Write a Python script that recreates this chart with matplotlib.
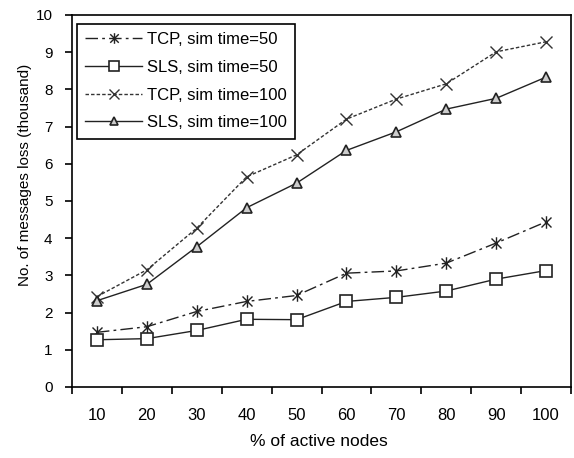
import matplotlib
matplotlib.use("Agg")
import matplotlib.pyplot as plt
from matplotlib.path import Path
import numpy as np

plt.rcParams['font.family'] = ['Liberation Sans', 'DejaVu Sans']

categories = ["10", "20", "30", "40", "50", "60", "70", "80", "90", "100"]
tcp_50 = [1.47, 1.62, 2.03, 2.30, 2.46, 3.06, 3.12, 3.33, 3.87, 4.44]
sls_50 = [1.27, 1.30, 1.52, 1.82, 1.81, 2.30, 2.41, 2.58, 2.90, 3.13]
tcp_100 = [2.43, 3.15, 4.27, 5.65, 6.24, 7.20, 7.74, 8.15, 9.01, 9.28]
sls_100 = [2.32, 2.76, 3.77, 4.82, 5.48, 6.36, 6.86, 7.47, 7.76, 8.33]
yticks = list(range(0, 11))

star = Path([(-1, -1), (1, 1), (-1, 1), (1, -1), (0, -1.25), (0, 1.25)],
            [Path.MOVETO, Path.LINETO, Path.MOVETO, Path.LINETO, Path.MOVETO, Path.LINETO])

fig = plt.figure(figsize=(5.74, 4.58), dpi=100)
ax = fig.add_axes([72/574, 1-387/458, 499/574, 372/458])

x = np.arange(len(categories)) + 0.5
lc = '#222222'
ax.plot(x, tcp_50, color=lc, lw=1.0, dashes=(9, 3, 2, 3), marker=star, ms=9,
        mew=1.0, mec=lc, label='TCP, sim time=50')
ax.plot(x, sls_50, color=lc, lw=1.0, ls='-', marker='s', ms=8.5, mfc='white',
        mec=lc, mew=1.2, label='SLS, sim time=50')
ax.plot(x, tcp_100, color='#333333', lw=1.0, dashes=(2.5, 1.5), marker='x', ms=9,
        mew=1.0, mec='#333333', label='TCP, sim time=100')
ax.plot(x, sls_100, color=lc, lw=1.0, ls='-', marker='^', ms=7.5, mfc='#cccccc',
        mec=lc, mew=1.2, label='SLS, sim time=100')

ax.set_xlim(0, len(categories))
ax.set_ylim(0, 10)
ax.set_yticks(yticks)
ax.set_xticks(np.arange(len(categories) + 1))
ax.set_xticklabels([])
ax.set_xticks(x, minor=True)
ax.set_xticklabels(categories, minor=True)
ax.tick_params(axis='x', which='minor', length=0, pad=15, labelsize=12)
ax.tick_params(axis='x', which='major', length=5, width=1.2, direction='out')
ax.tick_params(axis='y', length=5, width=1.2, direction='out', labelsize=11, pad=9)
for s in ax.spines.values():
    s.set_linewidth(1.2)
    s.set_color('black')

ax.set_xlabel('% of active nodes', fontsize=12.5, va='center')
ax.xaxis.set_label_coords(0.495, (387-442)/372)
ax.set_ylabel('No. of messages loss (thousand)', fontsize=11, va='center')
ax.yaxis.set_label_coords((25-72)/499, (387-175)/372)

leg = ax.legend(loc='upper left', bbox_to_anchor=(0.01, 0.976), fontsize=12,
                frameon=True, fancybox=False, edgecolor='black', framealpha=1,
                handlelength=3.4, markerscale=0.85, borderpad=0.5, labelspacing=0.76,
                handletextpad=0.3, borderaxespad=0)
leg.get_frame().set_linewidth(1.2)

fig.savefig('out.png', dpi=100)
